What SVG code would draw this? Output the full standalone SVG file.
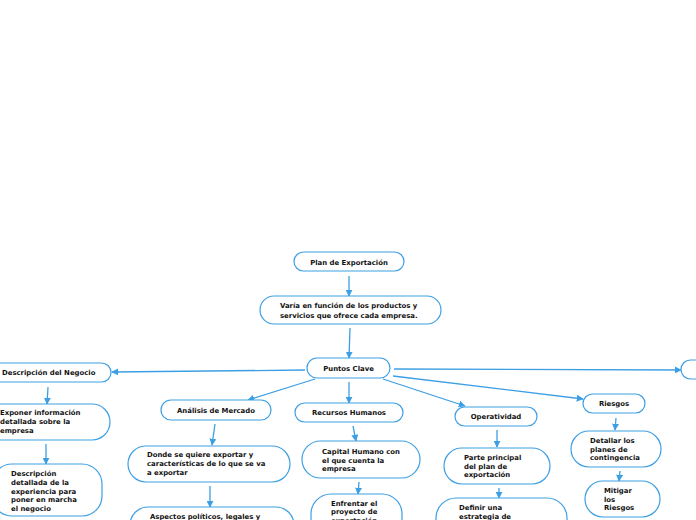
<svg xmlns="http://www.w3.org/2000/svg" width="696" height="520" viewBox="0 0 696 520">
<defs>
<style>
.n{fill:#fff;stroke:#3d9fe3;stroke-width:1.2}
.t{font-family:"DejaVu Sans",Verdana,sans-serif;font-weight:bold;font-size:6.9px;fill:#111}
.c{text-anchor:middle}
.l{fill:none;stroke:#3d9fe3;stroke-width:1.3}
</style>
<marker id="a" viewBox="0 0 10 10" refX="9" refY="5" markerWidth="7" markerHeight="7" markerUnits="userSpaceOnUse" orient="auto"><path d="M0,0L10,5L0,10z" fill="#3d9fe3"/></marker>
</defs>
<rect width="696" height="520" fill="#fff"/>
<g id="connectors">
<path class="l" d="M349,276L349,296" marker-end="url(#a)"/>
<path class="l" d="M350,328L349,358" marker-end="url(#a)"/>
<path class="l" d="M305,370L112,372" marker-end="url(#a)"/>
<path class="l" d="M48,387L47,404" marker-end="url(#a)"/>
<path class="l" d="M46,444L46,464" marker-end="url(#a)"/>
<path class="l" d="M315,379L248,400" marker-end="url(#a)"/>
<path class="l" d="M215,424L212,445" marker-end="url(#a)"/>
<path class="l" d="M210,486L210,507" marker-end="url(#a)"/>
<path class="l" d="M349,382L349,403" marker-end="url(#a)"/>
<path class="l" d="M353,426L356,441" marker-end="url(#a)"/>
<path class="l" d="M359,482L358,494" marker-end="url(#a)"/>
<path class="l" d="M383,379L465,406" marker-end="url(#a)"/>
<path class="l" d="M497,430L497,447" marker-end="url(#a)"/>
<path class="l" d="M499,488L499,498" marker-end="url(#a)"/>
<path class="l" d="M393,376L583,399" marker-end="url(#a)"/>
<path class="l" d="M616,418L615,430" marker-end="url(#a)"/>
<path class="l" d="M620,471L619,481" marker-end="url(#a)"/>
<path class="l" d="M394,369L681,370" marker-end="url(#a)"/>
</g>
<g id="plan"><rect class="n" x="294" y="252" width="110" height="19" rx="9.5"/><text class="t c" x="349" y="264.5">Plan de Exportación</text></g>
<g id="varia"><rect class="n" x="260" y="296" width="181" height="28" rx="14"/><text class="t" x="280" y="308">Varía en función de los productos y</text><text class="t" x="280" y="317.5">servicios que ofrece cada empresa.</text></g>
<g id="puntos"><rect class="n" x="307" y="358" width="83" height="20" rx="10"/><text class="t c" x="348.5" y="370.5">Puntos Clave</text></g>
<g id="negocio"><rect class="n" x="-20" y="363" width="131" height="19" rx="9.5"/><text class="t" x="2" y="375">Descripción del Negocio</text></g>
<g id="exponer"><rect class="n" x="-20" y="404" width="130" height="36" rx="18"/><text class="t" x="0" y="415">Exponer información</text><text class="t" x="0" y="424">detallada sobre la</text><text class="t" x="0" y="433">empresa</text></g>
<g id="detallada"><rect class="n" x="-8" y="464" width="110" height="52" rx="20"/><text class="t" x="11" y="476">Descripción</text><text class="t" x="11" y="485">detallada de la</text><text class="t" x="11" y="493.5">experiencia para</text><text class="t" x="11" y="502">poner en marcha</text><text class="t" x="11" y="510.5">el negocio</text></g>
<g id="mercado"><rect class="n" x="161" y="400" width="110" height="20" rx="10"/><text class="t c" x="216" y="412.5">Análisis de Mercado</text></g>
<g id="donde"><rect class="n" x="128" y="446" width="162" height="36" rx="18"/><text class="t" x="147" y="457">Donde se quiere exportar y</text><text class="t" x="147" y="466">características de lo que se va</text><text class="t" x="147" y="475">a exportar</text></g>
<g id="aspectos"><rect class="n" x="130" y="507" width="164" height="36" rx="18"/><text class="t" x="150" y="519">Aspectos políticos, legales y</text></g>
<g id="recursos"><rect class="n" x="295" y="403" width="108" height="19" rx="9.5"/><text class="t c" x="349" y="415">Recursos Humanos</text></g>
<g id="capital"><rect class="n" x="302" y="441" width="118" height="37" rx="18.5"/><text class="t" x="322" y="454">Capital Humano con</text><text class="t" x="322" y="462.5">el que cuenta la</text><text class="t" x="322" y="471">empresa</text></g>
<g id="enfrentar"><rect class="n" x="311" y="494" width="91" height="52" rx="20"/><text class="t" x="331" y="505.5">Enfrentar el</text><text class="t" x="331" y="514">proyecto de</text><text class="t" x="331" y="522.5">exportación</text></g>
<g id="operatividad"><rect class="n" x="455" y="407" width="82" height="19" rx="9.5"/><text class="t c" x="496" y="419">Operatividad</text></g>
<g id="parte"><rect class="n" x="444" y="448" width="106" height="36" rx="18"/><text class="t" x="464" y="460">Parte principal</text><text class="t" x="464" y="468.5">del plan de</text><text class="t" x="464" y="477">exportación</text></g>
<g id="definir"><rect class="n" x="436" y="498" width="131" height="52" rx="20"/><text class="t" x="459" y="510">Definir una</text><text class="t" x="459" y="519">estrategia de</text></g>
<g id="riesgos"><rect class="n" x="583" y="394" width="62" height="19" rx="9.5"/><text class="t c" x="614" y="406">Riesgos</text></g>
<g id="detallar"><rect class="n" x="571" y="431" width="90" height="36" rx="18"/><text class="t" x="590" y="443">Detallar los</text><text class="t" x="590" y="451.5">planes de</text><text class="t" x="590" y="460">contingencia</text></g>
<g id="mitigar"><rect class="n" x="585" y="481" width="75" height="36" rx="18"/><text class="t" x="604" y="493">Mitigar</text><text class="t" x="604" y="501.5">los</text><text class="t" x="604" y="510">Riesgos</text></g>
<g id="derecha"><rect class="n" x="681" y="360" width="40" height="19" rx="9.5"/></g>
</svg>
